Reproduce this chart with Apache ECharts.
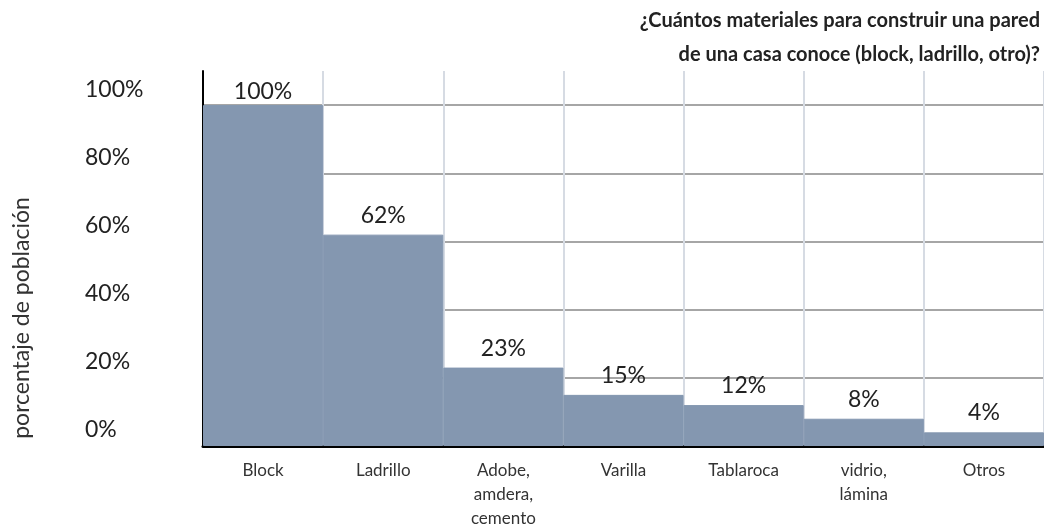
<!DOCTYPE html>
<html>
<head>
<meta charset="utf-8">
<script src="https://cdn.jsdelivr.net/npm/echarts@6/dist/echarts.min.js"></script>
<style>html,body{margin:0;padding:0;background:#fff}#c{width:1044px;height:531px}</style>
</head>
<body>
<div id="c"></div>
<script>
const categories = ['Block', 'Ladrillo', 'Adobe,\namdera,\ncemento', 'Varilla', 'Tablaroca', 'vidrio,\nlámina', 'Otros'];
const values = [100, 62, 23, 15, 12, 8, 4];
const yTicks = [0, 20, 40, 60, 80, 100];
const titleLines = ['¿Cuántos materiales para construir una pared', 'de una casa conoce (block, ladrillo, otro)?'];
const yName = 'porcentaje de población';

const FONT = 'Lato, "Open Sans", sans-serif';
const chart = echarts.init(document.getElementById('c'));
chart.setOption({
  animation: false,
  grid: { left: 203, right: 0, top: 71, bottom: 78 },
  xAxis: {
    type: 'category',
    data: categories,
    axisLine: { lineStyle: { color: '#000', width: 3 } },
    axisTick: { show: false },
    splitLine: { show: true, interval: 0, lineStyle: { color: '#d6dbe3', width: 2 } },
    axisLabel: { interval: 0, margin: 13, fontFamily: FONT, fontSize: 17, lineHeight: 24, color: '#333' }
  },
  yAxis: {
    type: 'value',
    min: 0, max: 110, interval: 20,
    axisLine: { show: true, lineStyle: { color: '#000', width: 2 } },
    axisTick: { show: false },
    splitLine: { show: true, lineStyle: { color: ['#a6a6a6', '#a6a6a6', '#a6a6a6', '#a6a6a6', '#a6a6a6', '#a6a6a6', 'rgba(0,0,0,0)'], width: 2 } },
    axisLabel: {
      align: 'left', margin: 118, verticalAlign: 'bottom', lineHeight: 32,
      fontFamily: FONT, fontSize: 23, color: '#222',
      formatter: v => yTicks.indexOf(v) >= 0 ? v + '%' : ''
    }
  },
  graphic: [
    {
      type: 'text', x: 1040, y: 21,
      style: { text: titleLines[0], fontFamily: FONT, fontWeight: 'bold', fontSize: 20, fill: '#222', textAlign: 'right', textVerticalAlign: 'middle' }
    },
    {
      type: 'text', x: 1040, y: 55,
      style: { text: titleLines[1], fontFamily: FONT, fontWeight: 'bold', fontSize: 20, fill: '#222', textAlign: 'right', textVerticalAlign: 'middle' }
    },
    {
      type: 'text', x: 22, y: 318, rotation: Math.PI / 2,
      style: { text: yName, fontFamily: FONT, fontSize: 23, fill: '#333', textAlign: 'center', textVerticalAlign: 'middle' }
    }
  ],
  series: [{
    type: 'bar',
    barCategoryGap: 0,
    itemStyle: { color: '#8497B0', borderColor: '#8497B0', borderWidth: 1 },
    data: values.map((v, i) => i === 0 ? { value: v, label: { distance: 2 } } : v),
    label: { show: true, position: 'top', distance: 8, formatter: '{c}%', fontFamily: FONT, fontSize: 23, color: '#222' }
  }]
});
</script>
</body>
</html>
